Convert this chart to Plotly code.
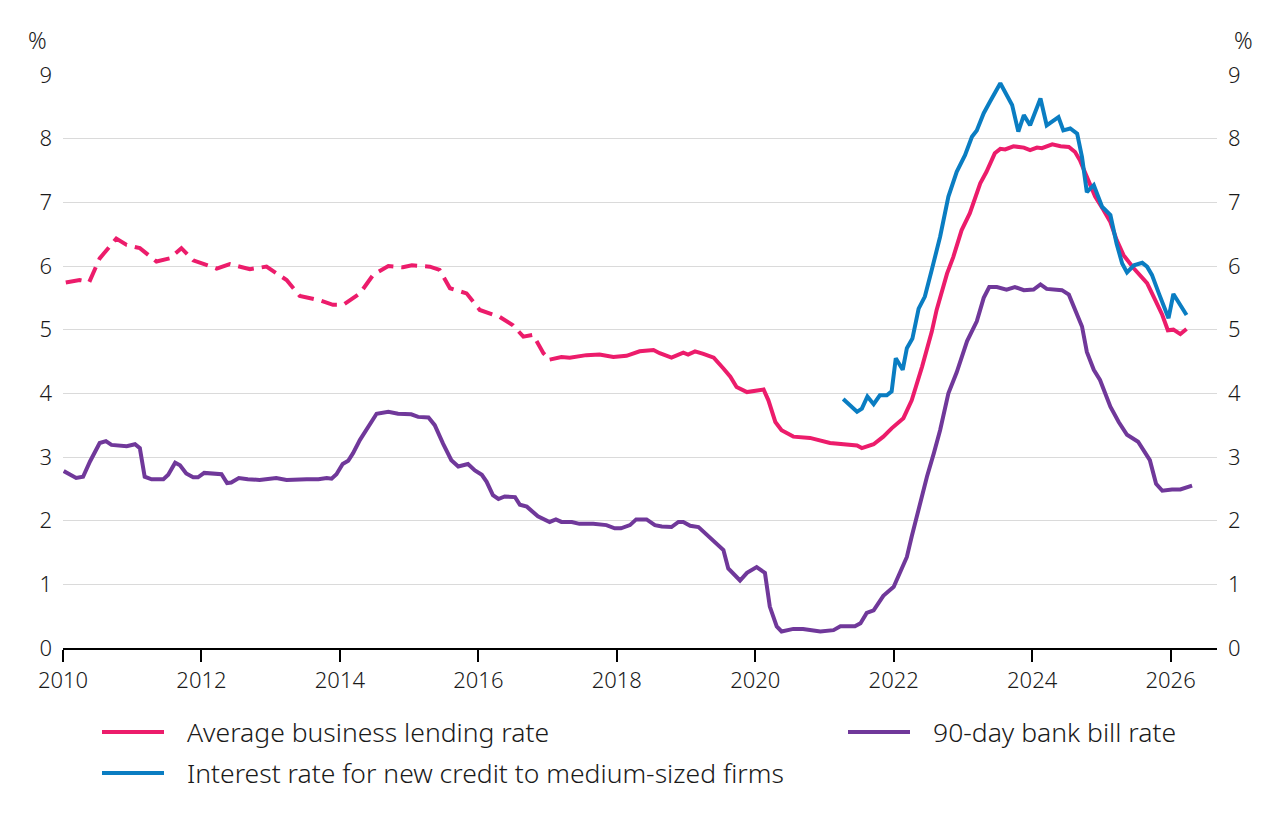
import plotly.graph_objects as go

# ---- data (decimal years, percent) ----
abl_hist_x = [2010.04, 2010.24, 2010.38, 2010.53, 2010.77, 2010.92, 2011.11, 2011.35, 2011.54, 2011.71,
              2011.88, 2012.22, 2012.41, 2012.70, 2012.94, 2013.23, 2013.42, 2013.71, 2013.90, 2014.05,
              2014.29, 2014.48, 2014.70, 2014.91, 2015.04, 2015.30, 2015.44, 2015.59, 2015.83, 2016.02,
              2016.31, 2016.50, 2016.65, 2016.79, 2016.94, 2017.03]
abl_hist_y = [5.74, 5.78, 5.75, 6.12, 6.43, 6.33, 6.28, 6.07, 6.12, 6.28,
              6.09, 5.96, 6.03, 5.95, 5.99, 5.78, 5.53, 5.46, 5.39, 5.39,
              5.57, 5.86, 6.00, 5.98, 6.01, 5.99, 5.94, 5.65, 5.57, 5.31,
              5.20, 5.07, 4.89, 4.92, 4.63, 4.53]

abl_x = [2017.03, 2017.20, 2017.32, 2017.56, 2017.75, 2017.95, 2018.14, 2018.33, 2018.53, 2018.62,
         2018.79, 2018.96, 2019.03, 2019.13, 2019.25, 2019.40, 2019.54, 2019.64, 2019.73, 2019.88,
         2020.12, 2020.19, 2020.29, 2020.38, 2020.55, 2020.79, 2021.08, 2021.32, 2021.47, 2021.54,
         2021.71, 2021.85, 2021.97, 2022.14, 2022.26, 2022.41, 2022.55, 2022.62, 2022.77, 2022.86,
         2022.98, 2023.10, 2023.25, 2023.34, 2023.46, 2023.54, 2023.61, 2023.73, 2023.88, 2023.97,
         2024.07, 2024.14, 2024.29, 2024.41, 2024.53, 2024.62, 2024.69, 2024.79, 2024.91, 2025.03,
         2025.13, 2025.22, 2025.32, 2025.47, 2025.59, 2025.66, 2025.78, 2025.88, 2025.96, 2026.04,
         2026.14, 2026.23]
abl_y = [4.53, 4.57, 4.56, 4.60, 4.61, 4.57, 4.59, 4.66, 4.68, 4.63,
         4.56, 4.64, 4.61, 4.66, 4.62, 4.56, 4.39, 4.26, 4.10, 4.02,
         4.06, 3.89, 3.55, 3.42, 3.32, 3.30, 3.22, 3.19, 3.18, 3.14,
         3.20, 3.32, 3.45, 3.61, 3.89, 4.42, 4.97, 5.31, 5.88, 6.14,
         6.56, 6.83, 7.30, 7.48, 7.77, 7.84, 7.83, 7.88, 7.86, 7.82,
         7.86, 7.85, 7.91, 7.88, 7.87, 7.79, 7.66, 7.40, 7.09, 6.88,
         6.69, 6.41, 6.17, 5.96, 5.81, 5.73, 5.46, 5.23, 4.99, 5.00,
         4.93, 5.01]

med_x = [2021.27, 2021.47, 2021.54, 2021.62, 2021.71, 2021.80, 2021.90, 2021.97, 2022.03, 2022.13,
         2022.19, 2022.27, 2022.36, 2022.45, 2022.55, 2022.67, 2022.79, 2022.91, 2023.03, 2023.13,
         2023.20, 2023.30, 2023.39, 2023.54, 2023.71, 2023.80, 2023.88, 2023.97, 2024.12, 2024.21,
         2024.38, 2024.45, 2024.55, 2024.65, 2024.72, 2024.79, 2024.89, 2025.01, 2025.13, 2025.22,
         2025.30, 2025.37, 2025.47, 2025.59, 2025.66, 2025.73, 2025.83, 2025.97, 2026.04, 2026.23]
med_y = [3.91, 3.71, 3.76, 3.95, 3.83, 3.97, 3.97, 4.03, 4.55, 4.37,
         4.71, 4.86, 5.33, 5.52, 5.94, 6.46, 7.09, 7.48, 7.74, 8.03,
         8.13, 8.40, 8.58, 8.87, 8.53, 8.11, 8.37, 8.21, 8.63, 8.21,
         8.34, 8.13, 8.16, 8.08, 7.71, 7.16, 7.27, 6.93, 6.80, 6.35,
         6.04, 5.90, 6.01, 6.05, 5.99, 5.86, 5.57, 5.18, 5.56, 5.23]

bill_x = [2010.01, 2010.19, 2010.29, 2010.39, 2010.53, 2010.62, 2010.70, 2010.92, 2011.04, 2011.11,
          2011.18, 2011.28, 2011.45, 2011.52, 2011.62, 2011.69, 2011.78, 2011.88, 2011.95, 2012.04,
          2012.29, 2012.37, 2012.43, 2012.54, 2012.67, 2012.84, 2013.08, 2013.23, 2013.52, 2013.69,
          2013.81, 2013.88, 2013.95, 2014.04, 2014.12, 2014.19, 2014.29, 2014.41, 2014.53, 2014.70,
          2014.84, 2015.03, 2015.13, 2015.28, 2015.37, 2015.49, 2015.61, 2015.71, 2015.85, 2015.95,
          2016.05, 2016.12, 2016.21, 2016.29, 2016.38, 2016.53, 2016.60, 2016.70, 2016.86, 2017.03,
          2017.12, 2017.20, 2017.35, 2017.46, 2017.66, 2017.85, 2017.97, 2018.06, 2018.19, 2018.28,
          2018.43, 2018.55, 2018.65, 2018.79, 2018.89, 2018.96, 2019.06, 2019.18, 2019.27, 2019.40,
          2019.49, 2019.54, 2019.61, 2019.78, 2019.88, 2020.02, 2020.14, 2020.21, 2020.31, 2020.38,
          2020.55, 2020.69, 2020.94, 2021.13, 2021.23, 2021.44, 2021.52, 2021.61, 2021.71, 2021.85,
          2022.00, 2022.09, 2022.19, 2022.26, 2022.38, 2022.48, 2022.58, 2022.67, 2022.79, 2022.91,
          2023.06, 2023.20, 2023.30, 2023.38, 2023.49, 2023.63, 2023.75, 2023.88, 2024.02, 2024.12,
          2024.21, 2024.43, 2024.53, 2024.62, 2024.72, 2024.79, 2024.89, 2024.98, 2025.13, 2025.25,
          2025.37, 2025.53, 2025.70, 2025.79, 2025.88, 2026.02, 2026.14, 2026.31]
bill_y = [2.78, 2.67, 2.69, 2.93, 3.22, 3.25, 3.19, 3.17, 3.20, 3.14,
          2.69, 2.65, 2.65, 2.72, 2.91, 2.87, 2.74, 2.68, 2.68, 2.75,
          2.73, 2.59, 2.60, 2.67, 2.65, 2.64, 2.67, 2.64, 2.65, 2.65,
          2.67, 2.66, 2.73, 2.89, 2.94, 3.06, 3.27, 3.48, 3.68, 3.71,
          3.68, 3.67, 3.63, 3.62, 3.50, 3.21, 2.95, 2.85, 2.89, 2.79,
          2.72, 2.61, 2.40, 2.34, 2.38, 2.37, 2.25, 2.22, 2.07, 1.98,
          2.02, 1.98, 1.98, 1.95, 1.95, 1.93, 1.88, 1.88, 1.93, 2.02,
          2.02, 1.93, 1.91, 1.90, 1.98, 1.98, 1.92, 1.90, 1.81, 1.67,
          1.58, 1.54, 1.25, 1.06, 1.18, 1.27, 1.18, 0.65, 0.34, 0.26,
          0.30, 0.30, 0.26, 0.28, 0.34, 0.34, 0.39, 0.55, 0.59, 0.82,
          0.96, 1.17, 1.43, 1.75, 2.30, 2.69, 3.06, 3.42, 4.00, 4.33,
          4.82, 5.13, 5.50, 5.67, 5.67, 5.63, 5.67, 5.62, 5.63, 5.71,
          5.64, 5.62, 5.55, 5.31, 5.05, 4.65, 4.37, 4.21, 3.79, 3.55,
          3.35, 3.24, 2.95, 2.58, 2.47, 2.49, 2.49, 2.55]

x_ticks = [2010, 2012, 2014, 2016, 2018, 2020, 2022, 2024, 2026]
y_ticks = [0, 1, 2, 3, 4, 5, 6, 7, 8, 9]

legend_labels = ["Average business lending rate", "90-day bank bill rate",
                 "Interest rate for new credit to medium-sized firms"]

PINK = "#EC1C6B"
BLUE = "#0A7DC2"
PURPLE = "#70389A"
FONT = "Segoe UI Light, Noto Sans, Open Sans, sans-serif"
TXT = "#1a1a1a"
LW = 4

fig = go.Figure()
fig.add_trace(go.Scatter(x=bill_x, y=bill_y, mode="lines", name=legend_labels[1],
                         line=dict(color=PURPLE, width=LW), showlegend=False))
fig.add_trace(go.Scatter(x=abl_hist_x, y=abl_hist_y, mode="lines", name=legend_labels[0],
                         line=dict(color=PINK, width=LW, dash="16px,8px"), showlegend=False))
fig.add_trace(go.Scatter(x=abl_x, y=abl_y, mode="lines", name=legend_labels[0],
                         line=dict(color=PINK, width=LW), showlegend=False))
fig.add_trace(go.Scatter(x=med_x, y=med_y, mode="lines", name=legend_labels[2],
                         line=dict(color=BLUE, width=LW), showlegend=False))
# invisible trace to anchor the right-hand axis
fig.add_trace(go.Scatter(x=[x_ticks[0]], y=[y_ticks[0]], mode="markers", yaxis="y2",
                         marker=dict(opacity=0), hoverinfo="skip", showlegend=False))

fig.update_layout(
    width=1278, height=823,
    margin=dict(l=63, r=61, t=75, b=175),
    plot_bgcolor="white", paper_bgcolor="white",
    font=dict(family=FONT, size=22, color=TXT, weight=300),
    xaxis=dict(range=[2010, 2026.67], tickvals=x_ticks, ticktext=[str(t) for t in x_ticks],
               showgrid=False, zeroline=False, showline=True, linecolor="black", linewidth=2,
               ticks="outside", ticklen=12, tickwidth=1.5, tickcolor="black",
               tickfont=dict(family=FONT, size=22, color=TXT, weight=300)),
    yaxis=dict(range=[0, 9], tickvals=y_ticks, showgrid=True, gridcolor="#DADADA", gridwidth=1,
               zeroline=False, showline=False, ticks="", ticklabelstandoff=10,
               tickfont=dict(family=FONT, size=22, color=TXT, weight=300)),
    yaxis2=dict(range=[0, 9], tickvals=y_ticks, overlaying="y", side="right", showgrid=False,
                zeroline=False, showline=False, ticks="", ticklabelstandoff=10,
                tickfont=dict(family=FONT, size=22, color=TXT, weight=300)),
    showlegend=False,
)

# helper: pixel -> paper coordinates
W, H = 1278, 823
pw, ph = W - 63 - 61, H - 75 - 175
def px2paper(px, py):
    return (px - 63) / pw, (H - 175 - py) / ph

# % unit labels
for upx in [37, 1243]:
    ux, uy = px2paper(upx, 40)
    fig.add_annotation(x=ux, y=uy, xref="paper", yref="paper", text="%",
                       showarrow=False, xanchor="center", yanchor="middle",
                       font=dict(family=FONT, size=23, color=TXT, weight=300))

# manual legend
legend_items = [(legend_labels[0], PINK, 102, 732), (legend_labels[1], PURPLE, 848, 732),
                (legend_labels[2], BLUE, 102, 773)]
for label, color, lx, ly in legend_items:
    x0, y0 = px2paper(lx, ly)
    x1, _ = px2paper(lx + 62, ly)
    xt, _ = px2paper(lx + 83, ly)
    fig.add_shape(type="line", xref="paper", yref="paper", x0=x0, x1=x1, y0=y0, y1=y0,
                  line=dict(color=color, width=4))
    fig.add_annotation(x=xt, y=y0, xref="paper", yref="paper", text=label, showarrow=False,
                       xanchor="left", yanchor="middle",
                       font=dict(family=FONT, size=26.5, color=TXT, weight=300))

fig.write_html("out.html")
